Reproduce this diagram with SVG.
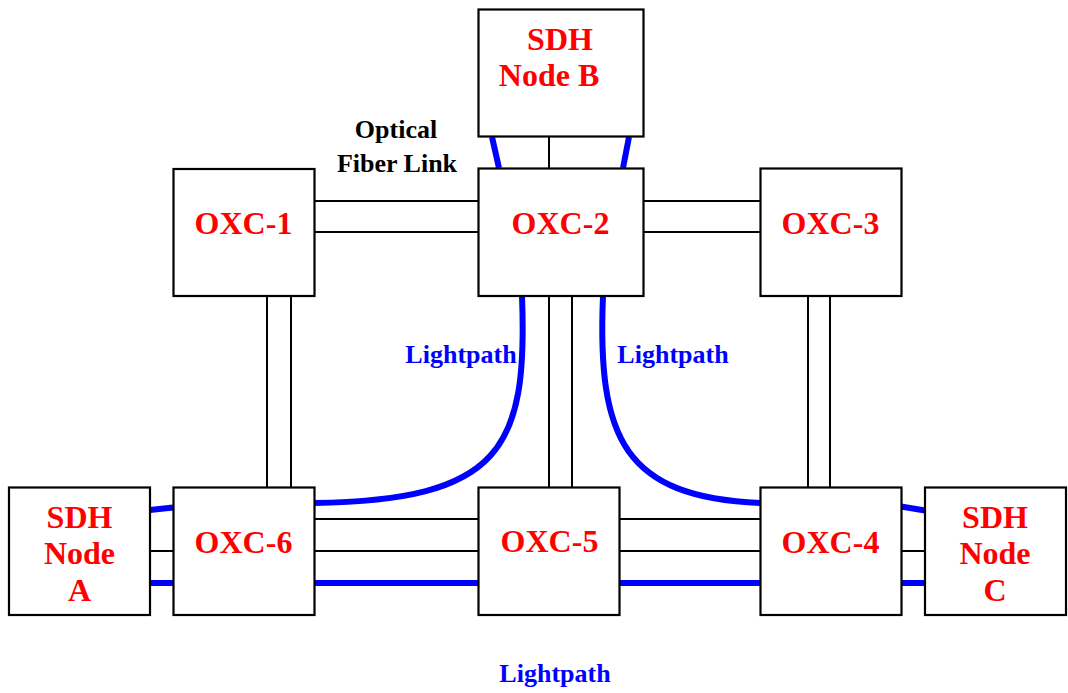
<svg xmlns="http://www.w3.org/2000/svg" width="1068" height="693" viewBox="0 0 1068 693">
<style>
.box{fill:#fff;stroke:#000;stroke-width:2.2}
.nt{font-family:"Liberation Serif",serif;font-weight:bold;font-size:32px;fill:#ff0000;text-anchor:middle}
.lt{font-family:"Liberation Serif",serif;font-weight:bold;font-size:26px;fill:#0000ff;text-anchor:middle}
.bt{font-family:"Liberation Serif",serif;font-weight:bold;font-size:26px;fill:#000;text-anchor:middle}
.fib{stroke:#000;stroke-width:2;fill:none}
.lp{stroke:#0000ff;stroke-width:6;fill:none}
</style>
<rect width="1068" height="693" fill="#fff"/>
<g id="connectors">
<line class="fib" x1="314" y1="201" x2="478" y2="201"/>
<line class="fib" x1="314" y1="232" x2="478" y2="232"/>
<line class="fib" x1="643" y1="201" x2="760" y2="201"/>
<line class="fib" x1="643" y1="232" x2="760" y2="232"/>
<line class="fib" x1="267" y1="296" x2="267" y2="487"/>
<line class="fib" x1="291" y1="296" x2="291" y2="487"/>
<line class="fib" x1="549" y1="296" x2="549" y2="487"/>
<line class="fib" x1="572" y1="296" x2="572" y2="487"/>
<line class="fib" x1="808" y1="296" x2="808" y2="487"/>
<line class="fib" x1="830" y1="296" x2="830" y2="487"/>
<line class="fib" x1="549" y1="137" x2="549" y2="168"/>
<line class="fib" x1="150" y1="551" x2="173" y2="551"/>
<line class="fib" x1="314" y1="519" x2="478" y2="519"/>
<line class="fib" x1="314" y1="551" x2="478" y2="551"/>
<line class="fib" x1="620" y1="519" x2="760" y2="519"/>
<line class="fib" x1="620" y1="551" x2="760" y2="551"/>
<line class="fib" x1="901" y1="551" x2="925" y2="551"/>
<line class="lp" x1="492" y1="137" x2="499" y2="168"/>
<line class="lp" x1="629" y1="137" x2="623" y2="168"/>
<path class="lp" d="M522,296 C528,450 500,500 314,503"/>
<path class="lp" d="M603,296 C597,440 625,497 760,503"/>
<line class="lp" x1="150" y1="510" x2="173" y2="507.5"/>
<line class="lp" x1="901" y1="506.5" x2="925" y2="510.5"/>
<line class="lp" x1="150" y1="583" x2="173" y2="583"/>
<line class="lp" x1="314" y1="583" x2="478" y2="583"/>
<line class="lp" x1="620" y1="583" x2="760" y2="583"/>
<line class="lp" x1="901" y1="583" x2="925" y2="583"/>
</g>
<g id="sdh-b">
<rect class="box" x="478.5" y="9.5" width="165" height="127"/>
<text class="nt" x="560" y="50">SDH</text>
<text class="nt" x="549" y="86">Node B</text>
</g>
<g id="oxc-1">
<rect class="box" x="173.5" y="169" width="141" height="127"/>
<text class="nt" x="243.5" y="234">OXC-1</text>
</g>
<g id="oxc-2">
<rect class="box" x="478.5" y="168.5" width="165" height="127.5"/>
<text class="nt" x="560.5" y="234">OXC-2</text>
</g>
<g id="oxc-3">
<rect class="box" x="760.5" y="168.5" width="141" height="127.5"/>
<text class="nt" x="830.5" y="234">OXC-3</text>
</g>
<g id="sdh-a">
<rect class="box" x="9" y="487.5" width="141" height="127.5"/>
<text class="nt" x="79.5" y="528">SDH</text>
<text class="nt" x="79.5" y="564">Node</text>
<text class="nt" x="79.5" y="601">A</text>
</g>
<g id="oxc-6">
<rect class="box" x="173.5" y="487.5" width="141" height="127.5"/>
<text class="nt" x="243.5" y="552.5">OXC-6</text>
</g>
<g id="oxc-5">
<rect class="box" x="478.5" y="487.5" width="141" height="127.5"/>
<text class="nt" x="549.5" y="552">OXC-5</text>
</g>
<g id="oxc-4">
<rect class="box" x="760.5" y="487.5" width="141" height="127.5"/>
<text class="nt" x="830.5" y="552.5">OXC-4</text>
</g>
<g id="sdh-c">
<rect class="box" x="925" y="487.5" width="141" height="127.5"/>
<text class="nt" x="995" y="528">SDH</text>
<text class="nt" x="995" y="564">Node</text>
<text class="nt" x="995" y="601">C</text>
</g>
<g id="labels">
<text class="bt" x="396" y="137.5">Optical</text>
<text class="bt" x="397" y="171.5">Fiber Link</text>
<text class="lt" x="461" y="363">Lightpath</text>
<text class="lt" x="673" y="363">Lightpath</text>
<text class="lt" x="555" y="682">Lightpath</text>
</g>
</svg>
